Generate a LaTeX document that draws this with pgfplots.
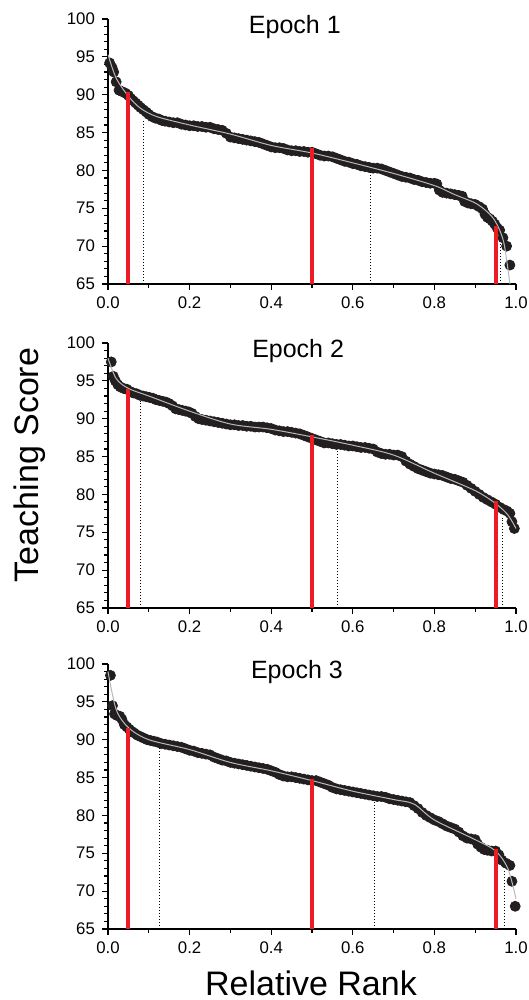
\documentclass[border=0pt]{standalone}
\usepackage{pgfplots}
\pgfplotsset{compat=1.18}
\usepackage{fontspec}
\setmainfont{Liberation Sans}
\definecolor{dotblack}{RGB}{35,31,32}
\definecolor{qred}{RGB}{237,28,36}
\pgfplotsset{
  panel/.style={
    scale only axis, width=204pt, height=132.5pt,
    anchor=south west,
    xmin=0, xmax=1, ymin=65, ymax=100,
    axis x line*=bottom, axis y line*=left,
    axis line style={line width=0.8pt},
    xtick={0,0.2,...,1.0}, ytick={65,70,...,100},
    minor xtick={0.1,0.3,0.5,0.7,0.9},
    minor ytick={66,67,...,99},
    tick align=outside,
    major tick length=3pt, minor tick length=1.8pt,
    tick style={line width=0.6pt, black},
    ticklabel style={font=\fontsize{8.4}{9}\selectfont},
    /pgf/number format/assume math mode=true,
    xticklabel style={/pgf/number format/.cd, fixed, fixed zerofill, precision=1},
    yticklabel style={/pgf/number format/.cd, fixed, precision=0},
    xtick pos=bottom, ytick pos=left,
    clip=false, clip marker paths=true,
  },
  dots/.style={only marks, mark=*, mark size=2.5pt, color=dotblack},
  fit/.style={no marks, smooth, tension=0.5, gray!55, line width=0.5pt},
  redline/.style={no marks, qred, line width=2pt},
  dotline/.style={no marks, black, densely dotted, line width=0.5pt},
}
\begin{document}
\begin{tikzpicture}
% ---- Epoch 1
\begin{axis}[panel, at={(0,0)}]
\addplot[dotline] coordinates {(0.086,65) (0.086,86.7)};
\addplot[dotline] coordinates {(0.644,65) (0.644,79.9)};
\addplot[dotline] coordinates {(0.962,65) (0.962,70.4)};
\addplot[dots] coordinates {
(0.004,94.2) (0.010,93.6) (0.014,93.0) (0.020,91.7) (0.027,90.6) (0.035,90.4)
(0.043,90.2) (0.050,89.9) (0.056,89.5) (0.062,89.2) (0.068,88.9) (0.074,88.6)
(0.080,88.3) (0.087,88.0) (0.094,87.7) (0.100,87.4) (0.108,87.1) (0.116,86.9)
(0.124,86.8) (0.132,86.6) (0.140,86.5) (0.150,86.4) (0.160,86.3) (0.170,86.3)
(0.180,86.1) (0.190,86.0) (0.200,85.9) (0.210,85.9) (0.220,85.8) (0.230,85.8)
(0.240,85.7) (0.250,85.7) (0.260,85.5) (0.270,85.4) (0.280,85.3) (0.290,84.9)
(0.300,84.4) (0.310,84.3) (0.320,84.2) (0.330,84.1) (0.340,84.0) (0.350,83.9)
(0.360,83.8) (0.370,83.7) (0.380,83.5) (0.390,83.3) (0.400,83.1) (0.410,83.0)
(0.420,83.0) (0.430,82.9) (0.440,82.7) (0.450,82.6) (0.460,82.6) (0.470,82.5)
(0.480,82.5) (0.490,82.4) (0.500,82.4) (0.510,82.2) (0.520,82.0) (0.530,81.9)
(0.540,81.9) (0.550,81.8) (0.560,81.6) (0.570,81.4) (0.580,81.2) (0.590,81.1)
(0.600,80.9) (0.610,80.8) (0.620,80.6) (0.630,80.5) (0.640,80.4) (0.650,80.3)
(0.660,80.3) (0.670,80.2) (0.680,80.0) (0.690,79.8) (0.700,79.6) (0.710,79.4)
(0.720,79.2) (0.730,79.1) (0.740,79.0) (0.750,78.8) (0.760,78.7) (0.770,78.5)
(0.780,78.4) (0.790,78.3) (0.800,78.3) (0.806,78.2) (0.812,77.4) (0.820,77.1)
(0.830,77.0) (0.840,76.9) (0.850,76.8) (0.860,76.7) (0.868,76.6) (0.874,75.9)
(0.882,75.7) (0.890,75.6) (0.900,75.5) (0.910,75.2) (0.918,74.9) (0.924,74.2)
(0.930,73.8) (0.936,73.6) (0.942,73.3) (0.948,72.9) (0.954,72.4) (0.960,72.1)
(0.968,71.1) (0.977,70.0) (0.985,67.5)
};
\addplot[fit] coordinates {
(0,95.3) (0.02,92.2) (0.05,89.8) (0.08,88.2) (0.12,87.1) (0.2,86.0) (0.3,84.8)
(0.4,83.3) (0.5,82.3) (0.6,81.0) (0.7,79.6) (0.8,78.0) (0.85,76.8) (0.9,75.7)
(0.93,74.5) (0.95,73.2) (0.97,70.5) (0.985,65)
};
\addplot[redline] coordinates {(0.05,65) (0.05,90.3)};
\addplot[redline] coordinates {(0.5,65) (0.5,82.9)};
\addplot[redline] coordinates {(0.95,65) (0.95,72.7)};
\node[font=\fontsize{12.5}{14}\selectfont] at (rel axis cs:0.458,0.97) {Epoch 1};
\end{axis}
% ---- Epoch 2
\begin{axis}[panel, at={(0,-162pt)}]
\addplot[dotline] coordinates {(0.080,65) (0.080,92.4)};
\addplot[dotline] coordinates {(0.563,65) (0.563,86.0)};
\addplot[dotline] coordinates {(0.967,65) (0.967,76.9)};
\addplot[dots] coordinates {
(0.008,97.5) (0.013,95.6) (0.018,95.0) (0.024,94.5) (0.030,94.2) (0.038,94.0)
(0.046,93.9) (0.054,93.6) (0.062,93.4) (0.070,93.3) (0.078,93.1) (0.086,93.0)
(0.094,92.9) (0.102,92.8) (0.110,92.7) (0.118,92.5) (0.126,92.4) (0.134,92.3)
(0.142,92.2) (0.150,92.0) (0.158,91.7) (0.166,91.3) (0.174,91.2) (0.182,91.1)
(0.190,91.0) (0.198,90.9) (0.206,90.7) (0.214,90.3) (0.222,90.0) (0.230,89.9)
(0.240,89.8) (0.250,89.7) (0.260,89.6) (0.270,89.5) (0.280,89.4) (0.290,89.3)
(0.300,89.2) (0.310,89.2) (0.320,89.1) (0.330,89.1) (0.340,89.0) (0.350,89.0)
(0.360,88.9) (0.370,88.9) (0.380,88.9) (0.390,88.8) (0.400,88.7) (0.410,88.5)
(0.420,88.4) (0.430,88.3) (0.440,88.3) (0.450,88.2) (0.460,88.1) (0.470,88.0)
(0.480,87.8) (0.490,87.6) (0.500,87.4) (0.510,87.2) (0.520,87.0) (0.530,86.8)
(0.540,86.8) (0.550,86.7) (0.560,86.6) (0.570,86.6) (0.580,86.5) (0.590,86.4)
(0.600,86.4) (0.610,86.3) (0.620,86.2) (0.630,86.2) (0.640,86.1) (0.650,86.0)
(0.660,85.6) (0.670,85.4) (0.680,85.3) (0.690,85.3) (0.700,85.2) (0.710,85.2)
(0.720,85.0) (0.730,84.4) (0.740,84.0) (0.750,83.7) (0.760,83.4) (0.770,83.2)
(0.780,83.0) (0.790,82.8) (0.800,82.7) (0.810,82.6) (0.820,82.5) (0.830,82.3)
(0.840,82.1) (0.850,82.0) (0.860,81.8) (0.870,81.6) (0.880,81.2) (0.890,80.8)
(0.900,80.4) (0.910,80.0) (0.920,79.6) (0.930,79.3) (0.940,79.0) (0.950,78.7)
(0.960,78.3) (0.970,78.0) (0.978,77.8) (0.985,77.5) (0.990,76.4) (0.996,75.5)
};
\addplot[fit] coordinates {
(0,98.0) (0.02,95.3) (0.05,94.0) (0.1,93.0) (0.2,91.0) (0.3,89.3) (0.4,88.6)
(0.5,87.6) (0.6,86.5) (0.7,85.2) (0.8,82.8) (0.9,80.5) (0.95,78.8) (0.98,77.3)
(1.0,75.5)
};
\addplot[redline] coordinates {(0.05,65) (0.05,93.9)};
\addplot[redline] coordinates {(0.5,65) (0.5,87.8)};
\addplot[redline] coordinates {(0.95,65) (0.95,79.1)};
\node[font=\fontsize{12.5}{14}\selectfont] at (rel axis cs:0.466,0.97) {Epoch 2};
\end{axis}
% ---- Epoch 3
\begin{axis}[panel, at={(0,-322.5pt)}]
\addplot[dotline] coordinates {(0.125,65) (0.125,89.0)};
\addplot[dotline] coordinates {(0.653,65) (0.653,82.2)};
\addplot[dotline] coordinates {(0.973,65) (0.973,72.8)};
\addplot[dots] coordinates {
(0.006,98.5) (0.011,94.5) (0.016,93.4) (0.022,93.2) (0.029,93.1) (0.034,92.7)
(0.040,92.0) (0.046,91.7) (0.052,91.4) (0.058,91.1) (0.064,90.9) (0.072,90.6)
(0.080,90.4) (0.088,90.2) (0.096,90.0) (0.104,89.9) (0.112,89.8) (0.120,89.7)
(0.130,89.5) (0.140,89.4) (0.150,89.3) (0.160,89.2) (0.170,89.1) (0.180,89.0)
(0.190,88.8) (0.200,88.6) (0.210,88.5) (0.220,88.3) (0.230,88.2) (0.240,88.1)
(0.250,88.0) (0.260,87.7) (0.270,87.5) (0.280,87.3) (0.290,87.2) (0.300,87.0)
(0.310,86.9) (0.320,86.8) (0.330,86.7) (0.340,86.6) (0.350,86.5) (0.360,86.4)
(0.370,86.3) (0.380,86.2) (0.390,86.1) (0.400,85.9) (0.410,85.7) (0.420,85.4)
(0.430,85.2) (0.440,85.1) (0.450,85.1) (0.460,85.0) (0.470,84.9) (0.480,84.8)
(0.490,84.7) (0.500,84.6) (0.510,84.6) (0.520,84.4) (0.530,84.2) (0.540,84.0)
(0.550,83.7) (0.560,83.5) (0.570,83.4) (0.580,83.3) (0.590,83.2) (0.600,83.1)
(0.610,83.0) (0.620,82.9) (0.630,82.8) (0.640,82.7) (0.650,82.6) (0.660,82.5)
(0.670,82.5) (0.680,82.4) (0.690,82.2) (0.700,82.1) (0.710,82.0) (0.720,81.9)
(0.730,81.8) (0.740,81.7) (0.750,81.3) (0.760,80.9) (0.770,80.4) (0.780,80.0)
(0.790,79.7) (0.800,79.4) (0.810,79.2) (0.820,78.9) (0.830,78.6) (0.840,78.4)
(0.850,78.2) (0.860,77.8) (0.870,77.3) (0.880,77.0) (0.890,76.9) (0.900,76.8)
(0.906,76.2) (0.914,75.8) (0.922,75.5) (0.930,75.4) (0.940,75.3) (0.950,75.3)
(0.958,74.8) (0.965,74.1) (0.975,73.7) (0.985,73.4) (0.990,71.3) (0.998,68.0)
};
\addplot[fit] coordinates {
(0,99.0) (0.02,94.0) (0.05,91.6) (0.1,90.0) (0.2,88.7) (0.3,87.0) (0.4,85.9)
(0.5,84.6) (0.6,83.2) (0.7,82.1) (0.75,81.5) (0.8,79.4) (0.9,76.8) (0.95,75.3)
(0.98,73.0) (1.0,69.0)
};
\addplot[redline] coordinates {(0.05,65) (0.05,91.6)};
\addplot[redline] coordinates {(0.5,65) (0.5,84.8)};
\addplot[redline] coordinates {(0.95,65) (0.95,75.6)};
\node[font=\fontsize{12.5}{14}\selectfont] at (rel axis cs:0.463,0.97) {Epoch 3};
\end{axis}
% ---- shared labels
\node[rotate=90, font=\fontsize{17}{20}\selectfont] at (-39pt,-90.5pt) {Teaching Score};
\node[anchor=base, font=\fontsize{17}{20}\selectfont] at (101.5pt,-355.5pt) {Relative Rank};
\pgfresetboundingbox
\path (-54pt,142pt) rectangle (210.5pt,-358pt);
\end{tikzpicture}
\end{document}
